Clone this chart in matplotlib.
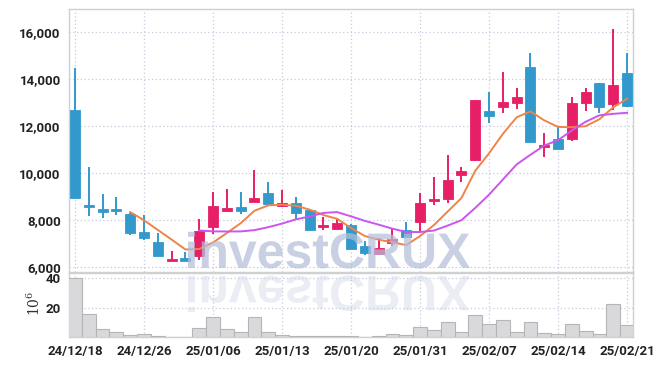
import matplotlib
matplotlib.use("Agg")
import matplotlib.pyplot as plt
import pandas as pd
from matplotlib.textpath import TextPath
from matplotlib.patches import PathPatch
from matplotlib.font_manager import FontProperties
from matplotlib.transforms import Affine2D

dates = ['24/12/18', '24/12/19', '24/12/20', '24/12/23', '24/12/24', '24/12/26', '24/12/27', '24/12/30',
         '25/01/02', '25/01/03', '25/01/06', '25/01/07', '25/01/08', '25/01/09', '25/01/10', '25/01/13',
         '25/01/14', '25/01/15', '25/01/16', '25/01/17', '25/01/20', '25/01/21', '25/01/22', '25/01/23',
         '25/01/24', '25/01/31', '25/02/03', '25/02/04', '25/02/05', '25/02/06', '25/02/07', '25/02/10',
         '25/02/11', '25/02/12', '25/02/13', '25/02/14', '25/02/17', '25/02/18', '25/02/19', '25/02/20',
         '25/02/21']
opens = [12670, 8600, 8420, 8420, 8250, 7480, 7050, 6260, 6350, 6470, 7680, 8390, 8540, 8770, 9150, 8590,
         8710, 8410, 7700, 7620, 7780, 6880, 6550, 7000, 7560, 7890, 8800, 8890, 9890, 10540, 12630, 12810,
         12980, 14490, 11110, 11420, 11450, 12980, 13820, 12940, 14240]
highs = [14450, 10260, 9110, 8950, 8300, 8210, 7420, 6660, 6610, 8030, 9180, 9290, 9170, 10100, 9620, 9250,
         8980, 8420, 8100, 8090, 7800, 7080, 7210, 7660, 7900, 9150, 9830, 10750, 10230, 13100, 13420, 14290,
         13590, 15080, 11680, 11960, 13230, 13590, 13830, 16130, 15080]
lows = [8940, 8160, 8070, 8200, 7340, 7150, 6450, 6260, 6220, 6290, 7380, 8390, 8230, 8760, 8680, 8530,
        8040, 7540, 7560, 7620, 6760, 6490, 6550, 6880, 7280, 7490, 8630, 8720, 9600, 10520, 12100, 12530,
        12700, 11300, 10660, 11020, 11340, 12610, 12530, 12670, 12800]
closes = [8940, 8540, 8360, 8370, 7420, 7200, 6470, 6310, 6260, 7520, 8580, 8490, 8390, 8910, 8680, 8720,
          8270, 7560, 7760, 7870, 6770, 6570, 6780, 7190, 7280, 8700, 8880, 9680, 10070, 13090, 12410, 13010,
          13220, 11320, 11180, 11020, 12950, 13430, 12810, 13720, 12840]
volumes = [39.8, 15.6, 5.4, 3.2, 1.1, 1.8, 0.5, 0.2, 0.2, 5.9, 13.3, 5.2, 3.2, 13.3, 3.2, 1.1,
           1.0, 0.6, 0.5, 0.4, 0.6, 0.3, 0.8, 1.9, 1.3, 6.6, 4.6, 10.1, 3.3, 14.8, 8.7, 11.3,
           3.4, 10.2, 2.7, 2.0, 8.8, 4.1, 2.0, 22.4, 7.9]

up_color = '#e61f66'
down_color = '#3399cc'
grid_color = '#c6cadc'
spine_color = '#d0d0d0'
tick_font = ['Roboto', 'DejaVu Sans']

df = pd.DataFrame({'open': opens, 'high': highs, 'low': lows, 'close': closes, 'vol': volumes})
ma5 = df['close'].rolling(5).mean()
ma10 = df['close'].rolling(10).mean()
x = list(range(len(dates)))

fig = plt.figure(figsize=(6.62, 3.66), dpi=100)
ax = fig.add_axes([0.1042, 0.256, 0.852, 0.7194])
axv = fig.add_axes([0.1042, 0.0792, 0.852, 0.1745], sharex=ax)

# candles
for i in x:
    o, h, l, c = opens[i], highs[i], lows[i], closes[i]
    col = up_color if c >= o else down_color
    ax.vlines(i, l, h, color=col, lw=1.4, zorder=3)
    lo, hi = min(o, c), max(o, c)
    if hi - lo < 90:
        mid = (hi + lo) / 2
        lo, hi = mid - 45, mid + 45
    ax.bar(i, hi - lo, bottom=lo, width=0.72, color=col, edgecolor=col, lw=0.6, zorder=4)

ax.plot(x, ma5, color='#ee8448', lw=1.4, zorder=5)
ax.plot(x, ma10, color='#cc55ee', lw=1.4, zorder=5)

ax.set_ylim(5760, 16970)
ax.set_xlim(-0.435, 40.43)
ax.set_yticks([6000, 8000, 10000, 12000, 14000, 16000])
ax.set_yticklabels(['6,000', '8,000', '10,000', '12,000', '14,000', '16,000'])
ax.set_xticks(x[::5])
ax.tick_params(axis='x', labelbottom=False, length=0)
ax.tick_params(axis='y', length=0, pad=6)

# volume
axv.bar(x, volumes, width=1.0, color='#d9d9db', edgecolor='#b5b5b8', lw=0.8, zorder=3)
axv.set_ylim(0, 43.3)
axv.set_yticks([20, 40])
axv.set_xticks(x[::5])
axv.set_xticklabels(dates[::5])
axv.tick_params(length=0)
axv.tick_params(axis='y', pad=6)
axv.tick_params(axis='x', pad=6)

for a in (ax, axv):
    a.grid(True, color=grid_color, linestyle=(0, (1, 2)), lw=0.9)
    a.set_axisbelow(True)
    for s in a.spines.values():
        s.set_color(spine_color)
        s.set_linewidth(1.0)
    for lab in a.get_xticklabels() + a.get_yticklabels():
        lab.set_family(tick_font)
        lab.set_fontsize(9.5)
        lab.set_fontweight('bold')
        lab.set_color('#222222')

fig.text(0.052, 0.172, r'$\mathregular{10^6}$', rotation=90, ha='center', va='center',
         family='DejaVu Serif', fontsize=10, color='#333333')

# watermark and its reflection
wm = TextPath((0, 0), 'investCRUX', size=49, prop=FontProperties(family='Liberation Sans', weight='bold'))
ext = wm.get_extents()
sx = 282 / ext.width
to_fig = Affine2D().scale(1 / 662, 1 / 366) + fig.transFigure
t1 = Affine2D().translate(-ext.x0, 0).scale(sx, sx).translate(188, 366 - 268) + to_fig
t2 = Affine2D().translate(-ext.x0, 0).scale(sx, -sx).translate(188, 366 - 276) + to_fig
fig.patches.append(PathPatch(wm, transform=t1, facecolor='#b4bfda', edgecolor='none', alpha=0.72, zorder=10))
fig.patches.append(PathPatch(wm, transform=t2, facecolor='#c4cce2', edgecolor='none', alpha=0.35, zorder=10))

fig.savefig('out.png', dpi=100)
